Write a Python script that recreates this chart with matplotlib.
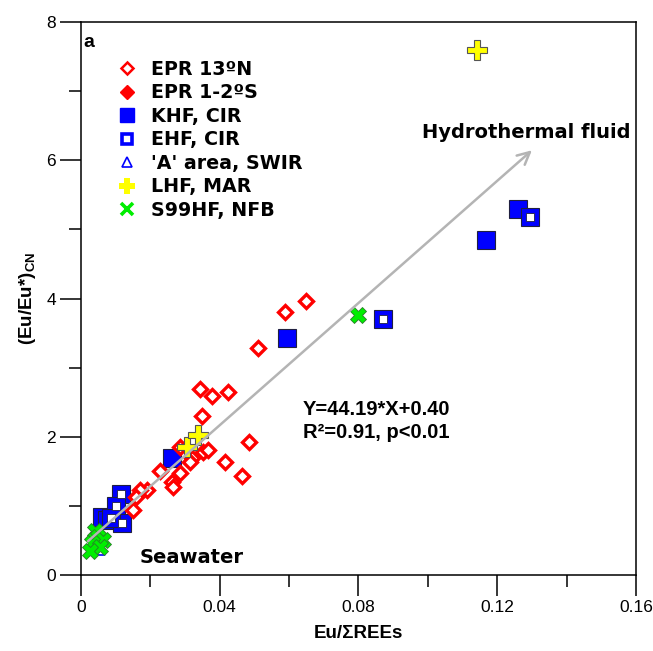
import matplotlib
matplotlib.use("Agg")
import matplotlib.pyplot as plt
from matplotlib.lines import Line2D
from matplotlib.ticker import FixedLocator, FixedFormatter

plt.rcParams['font.family'] = ['Liberation Sans', 'DejaVu Sans']
plt.rcParams['mathtext.fontset'] = 'custom'
plt.rcParams['mathtext.rm'] = 'Liberation Sans'
plt.rcParams['mathtext.bf'] = 'Liberation Sans:bold'

# ---------------- data ----------------
epr13n_x = [0.0588, 0.0649, 0.0511, 0.0343, 0.0377, 0.0425, 0.0350, 0.0485, 0.0353,
            0.0367, 0.0319, 0.0415, 0.0463, 0.0285, 0.0314, 0.0285, 0.0261, 0.0266,
            0.0228, 0.0189, 0.0170, 0.0160, 0.0151]
epr13n_y = [3.81, 3.96, 3.29, 2.69, 2.59, 2.65, 2.30, 1.93, 1.78,
            1.81, 1.69, 1.63, 1.43, 1.85, 1.64, 1.47, 1.35, 1.28,
            1.50, 1.23, 1.23, 1.13, 0.94]
epr12s_x = []
epr12s_y = []
khf_x = [0.0263, 0.0595, 0.1168, 0.1259, 0.0060, 0.0075]
khf_y = [1.70, 3.43, 4.85, 5.29, 0.84, 0.80]
ehf_x = [0.1295, 0.0872, 0.0114, 0.0100, 0.0117, 0.0088]
ehf_y = [5.18, 3.70, 1.17, 1.00, 0.75, 0.82]
swir_x = [0.0055]
swir_y = [0.36]
lhf_x = [0.1141, 0.0305, 0.0338]
lhf_y = [7.59, 1.85, 2.03]
s99_x = [0.0799, 0.0040, 0.0050, 0.0064, 0.0031, 0.0055, 0.0026]
s99_y = [3.76, 0.63, 0.55, 0.51, 0.46, 0.41, 0.35]

slope, intercept = 44.19, 0.40
fit_x = [0.002, 0.130]

legend_labels = ["EPR 13ºN", "EPR 1-2ºS", "KHF, CIR", "EHF, CIR",
                 "'A' area, SWIR", "LHF, MAR", "S99HF, NFB"]

x_major = [0, 0.04, 0.08, 0.12, 0.16]
x_major_labels = ["0", "0.04", "0.08", "0.12", "0.16"]
x_minor = [0.02, 0.06, 0.10, 0.14]
y_major = [0, 2, 4, 6, 8]
y_major_labels = ["0", "2", "4", "6", "8"]
y_minor = [1, 3, 5, 7]

# ---------------- figure ----------------
fig = plt.figure(figsize=(6.53, 6.51), dpi=100)
ax = fig.add_axes([0.124, 0.1167, 0.850, 0.8495])
ax.set_xlim(0, 0.16)
ax.set_ylim(0, 8)

RED = '#ff0000'
BLUE = '#0000ff'
YEL = '#ffff00'
GRN = '#00ee00'

# blue squares
ax.plot(khf_x, khf_y, ls='none', marker='s', ms=13.5, mfc=BLUE, mec='#202040', mew=0.8, zorder=3)
ax.plot(ehf_x, ehf_y, ls='none', marker='s', ms=13.5, mfc=BLUE, mec='#202040', mew=0.8, zorder=3)
ax.plot(ehf_x, ehf_y, ls='none', marker='s', ms=5.5, mfc='white', mec='#202040', mew=0.6, zorder=3.1)
# red diamonds
ax.plot(epr13n_x, epr13n_y, ls='none', marker='D', ms=7, mfc='white', mec=RED, mew=2.4, zorder=4)
ax.plot(epr12s_x, epr12s_y, ls='none', marker='D', ms=8, mfc=RED, mec=RED, zorder=4)
ax.plot(swir_x, swir_y, ls='none', marker='^', ms=7, mfc='white', mec=BLUE, mew=1.2, zorder=4)
# yellow pluses
ax.plot(lhf_x, lhf_y, ls='none', marker='P', ms=14, mfc=YEL, mec='#555555', mew=0.8, zorder=5)
# green crosses
ax.plot(s99_x, s99_y, ls='none', marker='X', ms=12, mfc=GRN, mec='#2a7a2a', mew=0.6, zorder=5)

# regression arrow
ax.annotate('', xy=(fit_x[1], slope * fit_x[1] + intercept),
            xytext=(fit_x[0], slope * fit_x[0] + intercept),
            arrowprops=dict(arrowstyle='->', color='#b4b4b4', lw=1.8, mutation_scale=22,
                            shrinkA=0, shrinkB=0), zorder=6)

# texts
ax.text(0.005, 0.979, 'a', transform=ax.transAxes, fontsize=14, fontweight='bold', va='top', ha='left')
ax.text(0.1583, 6.40, 'Hydrothermal fluid', fontsize=14, fontweight='bold', ha='right', va='center',
        family='DejaVu Sans')
ax.text(0.0168, 0.26, 'Seawater', fontsize=14, fontweight='bold', ha='left', va='center',
        family='DejaVu Sans')
ax.text(0.0640, 2.39, 'Y=44.19*X+0.40', fontsize=14.5, fontweight='bold', ha='left', va='center')
ax.text(0.0640, 2.06, 'R²=0.91, p<0.01', fontsize=14.5, fontweight='bold', ha='left', va='center')

# legend
handles = [
    Line2D([], [], ls='none', marker='D', ms=6, mfc='white', mec=RED, mew=1.8),
    Line2D([], [], ls='none', marker='D', ms=7.5, mfc=RED, mec=RED),
    Line2D([], [], ls='none', marker='s', ms=10, mfc=BLUE, mec=BLUE),
    Line2D([], [], ls='none', marker='s', ms=7, mfc='white', mec=BLUE, mew=2.6),
    Line2D([], [], ls='none', marker='^', ms=7, mfc='white', mec=BLUE, mew=1.2),
    Line2D([], [], ls='none', marker='P', ms=11, mfc=YEL, mec=YEL, mew=0),
    Line2D([], [], ls='none', marker='x', ms=9, mec=GRN, mew=2.6),
]
leg = ax.legend(handles, legend_labels, loc='upper left', bbox_to_anchor=(0.066, 0.932),
                frameon=False, borderpad=0, borderaxespad=0, handlelength=1.0,
                handletextpad=0.75, labelspacing=0.24,
                prop=dict(family='DejaVu Sans', weight='bold', size=13.7))

# axes styling
for s in ax.spines.values():
    s.set_linewidth(1.1)
ax.xaxis.set_major_locator(FixedLocator(x_major))
ax.xaxis.set_major_formatter(FixedFormatter(x_major_labels))
ax.xaxis.set_minor_locator(FixedLocator(x_minor))
ax.yaxis.set_major_locator(FixedLocator(y_major))
ax.yaxis.set_major_formatter(FixedFormatter(y_major_labels))
ax.yaxis.set_minor_locator(FixedLocator(y_minor))
ax.tick_params(which='major', direction='out', length=15, width=1.1, labelsize=12.5, pad=3)
ax.tick_params(which='minor', direction='out', length=8.5, width=1.1)
ax.tick_params(top=False, right=False, which='both')

ax.set_xlabel('Eu/ΣREEs', fontsize=13.5, fontweight='bold', labelpad=7)
ax.set_ylabel(r'(Eu/Eu*)$_{\mathbf{CN}}$', fontsize=13.5, fontweight='bold', labelpad=6)

fig.savefig('out.png', dpi=100)
